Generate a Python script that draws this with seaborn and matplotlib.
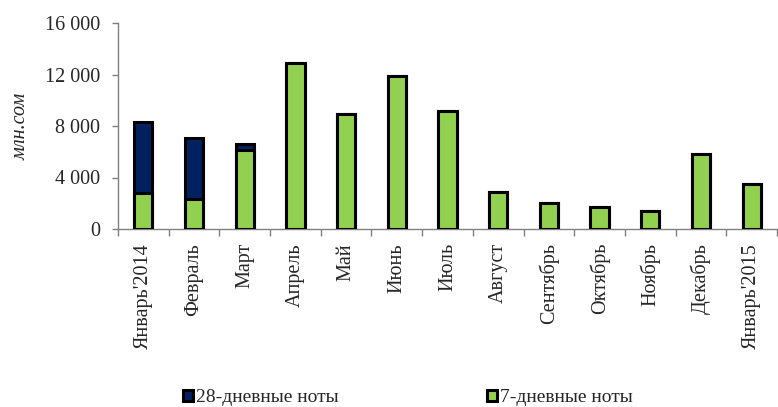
import matplotlib
matplotlib.use("Agg")
import matplotlib.pyplot as plt
from matplotlib.ticker import FuncFormatter, FixedLocator
import seaborn as sns
import pandas as pd
import numpy as np

months = ["Январь'2014", "Февраль", "Март", "Апрель", "Май", "Июнь", "Июль",
          "Август", "Сентябрь", "Октябрь", "Ноябрь", "Декабрь", "Январь'2015"]
notes_7d = [2800, 2300, 6100, 12900, 8900, 11850, 9200, 2900, 2000, 1700, 1400, 5800, 3500]
notes_28d = [5500, 4800, 500, 0, 0, 0, 0, 0, 0, 0, 0, 0, 0]
series_labels = ["28-дневные ноты", "7-дневные ноты"]
y_ticks = [0, 4000, 8000, 12000, 16000]
y_label = "млн.сом"

df = pd.DataFrame({"month": months, "n7": notes_7d, "n28": notes_28d})
df["total"] = df["n7"] + df["n28"]

sns.set_style("white")
plt.rcParams["font.family"] = ["Liberation Serif", "DejaVu Serif"]
plt.rcParams["axes.unicode_minus"] = False

fig = plt.figure(figsize=(7.78, 4.07), dpi=100)
ax = fig.add_axes([118 / 778, (407 - 229) / 407, 659 / 778, 206 / 407])

navy = "#002060"
green = "#92D050"
bw = 0.36
lw = 2.2

sns.barplot(data=df, x="month", y="total", color=navy, edgecolor="black",
            linewidth=lw, width=bw, saturation=1, ax=ax, zorder=2)
sns.barplot(data=df, x="month", y="n7", color=green, edgecolor="black",
            linewidth=lw, width=bw, saturation=1, ax=ax, zorder=3)

ax.set_ylim(0, 16000)
ax.set_xlim(-0.5, len(months) - 0.5)
ax.set_yticks(y_ticks)
ax.yaxis.set_major_formatter(FuncFormatter(lambda v, p: f"{int(v):,}".replace(",", " ")))
ax.set_xlabel("")
ax.set_ylabel(y_label, fontsize=14.5, style="italic", labelpad=10,
              family=["Liberation Serif", "DejaVu Serif"])

for s in ["top", "right"]:
    ax.spines[s].set_visible(False)
for s in ["left", "bottom"]:
    ax.spines[s].set_color("#808080")
    ax.spines[s].set_linewidth(1.0)

ax.tick_params(axis="y", which="major", direction="out", length=4, width=1,
               color="#808080", pad=9, labelsize=14.5, left=True)
ax.set_xticks(range(len(months)))
ax.set_xticklabels(months, rotation=90, fontsize=14.5,
                   family=["Liberation Serif", "DejaVu Serif"])
ax.tick_params(axis="x", which="major", length=0, pad=10)
ax.xaxis.set_minor_locator(FixedLocator(np.arange(-0.5, len(months), 1.0)))
ax.tick_params(axis="x", which="minor", direction="out", length=5, width=1,
               color="#808080", bottom=True)
ax.grid(False)

handles = [ax.containers[0], ax.containers[1]]
fig.legend(handles, series_labels, loc="center", bbox_to_anchor=(408 / 778, 1 - 398 / 407),
           ncol=2, frameon=False, fontsize=14, columnspacing=7.65,
           handlelength=0.5, handleheight=0.5, handletextpad=0.15,
           prop={"family": ["Liberation Serif", "DejaVu Serif"], "size": 14})

fig.savefig("out.png", dpi=100)
